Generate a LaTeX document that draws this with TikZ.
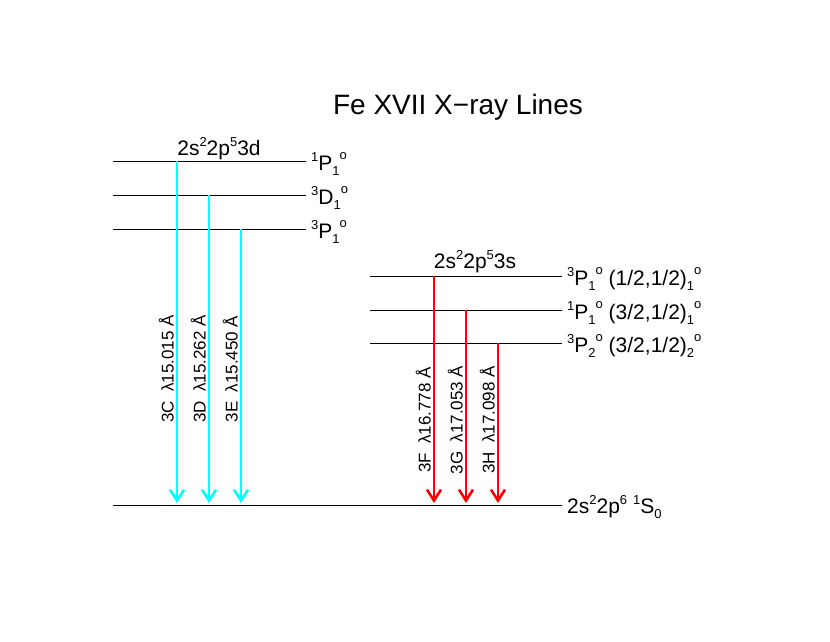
\documentclass[tikz,border=0pt]{standalone}
\usepackage{fontspec}
\setmainfont{Liberation Sans}
\usetikzlibrary{arrows.meta}
\definecolor{cyanx}{RGB}{0,255,255}
\definecolor{redx}{RGB}{255,0,0}
\newcommand\spx[1]{\raisebox{0.40em}{\fontsize{13}{13}\selectfont #1}}
\newcommand\sbx[1]{\raisebox{-0.26em}{\fontsize{13}{13}\selectfont #1}}
\newcommand\spo{\raisebox{0.52em}{\fontsize{13}{13}\selectfont o}}
\begin{document}
\begin{tikzpicture}[x=1pt,y=-1pt,
  level/.style={line width=1pt,black},
  trans/.style={line width=2.6pt,-{Straight Barb[length=11pt,width=14pt]}},
  cyantr/.style={trans,draw=cyanx},
  redtr/.style={trans,draw=redx},
  lvllabel/.style={anchor=base west,inner sep=0pt,font=\fontsize{21}{23}\selectfont},
  cfglabel/.style={anchor=base,inner sep=0pt,font=\fontsize{21}{23}\selectfont},
  wavelabel/.style={anchor=base,rotate=90,inner sep=0pt,font=\fontsize{17}{19}\selectfont}]
\useasboundingbox (0,0) rectangle (830,642);
\node[anchor=base,inner sep=0pt,font=\fontsize{28}{30}\selectfont] (title) at (458,114) {Fe XVII X\textminus ray Lines};
% levels
\coordinate (L1a) at (113,161); \coordinate (L1b) at (306,161);
\coordinate (L2a) at (113,195); \coordinate (L2b) at (306,195);
\coordinate (L3a) at (113,229); \coordinate (L3b) at (306,229);
\coordinate (R1a) at (370,276); \coordinate (R1b) at (562,276);
\coordinate (R2a) at (370,310); \coordinate (R2b) at (562,310);
\coordinate (R3a) at (370,343); \coordinate (R3b) at (562,343);
\coordinate (Ga) at (113,505); \coordinate (Gb) at (562,505);
\draw[level] (L1a) -- (L1b);
\draw[level] (L2a) -- (L2b);
\draw[level] (L3a) -- (L3b);
\draw[level] (R1a) -- (R1b);
\draw[level] (R2a) -- (R2b);
\draw[level] (R3a) -- (R3b);
\draw[level] (Ga) -- (Gb);
% labels
\node[cfglabel] (cfg3d) at (219,155) {2s\spx{2}2p\spx{5}3d};
\node[cfglabel] (cfg3s) at (475,268) {2s\spx{2}2p\spx{5}3s};
\node[lvllabel] (l1) at (311,170) {\spx{1}P\sbx{1}\spo};
\node[lvllabel] (l2) at (311,204) {\spx{3}D\sbx{1}\spo};
\node[lvllabel] (l3) at (311,238) {\spx{3}P\sbx{1}\spo};
\node[lvllabel] (r1) at (567,285) {\spx{3}P\sbx{1}\spo{} (1/2,1/2)\sbx{1}\spo};
\node[lvllabel] (r2) at (567,319) {\spx{1}P\sbx{1}\spo{} (3/2,1/2)\sbx{1}\spo};
\node[lvllabel] (r3) at (567,352) {\spx{3}P\sbx{2}\spo{} (3/2,1/2)\sbx{2}\spo};
\node[lvllabel] (g) at (567,513) {2s\spx{2}2p\spx{6} \spx{1}S\sbx{0}};
% transitions
\coordinate (c1) at (177,161); \coordinate (c1g) at (177,503);
\coordinate (c2) at (209,195); \coordinate (c2g) at (209,503);
\coordinate (c3) at (241,229); \coordinate (c3g) at (241,503);
\coordinate (d1) at (434,276); \coordinate (d1g) at (434,503);
\coordinate (d2) at (466,310); \coordinate (d2g) at (466,503);
\coordinate (d3) at (498,343); \coordinate (d3g) at (498,503);
\draw[cyantr] (c1) -- (c1g);
\draw[cyantr] (c2) -- (c2g);
\draw[cyantr] (c3) -- (c3g);
\draw[redtr] (d1) -- (d1g);
\draw[redtr] (d2) -- (d2g);
\draw[redtr] (d3) -- (d3g);
\node[wavelabel] (w3c) at (173.5,369) {3C\hspace{0.55em}λ15.015 Å};
\node[wavelabel] (w3d) at (205.5,369) {3D\hspace{0.55em}λ15.262 Å};
\node[wavelabel] (w3e) at (237.5,369) {3E\hspace{0.55em}λ15.450 Å};
\node[wavelabel] (w3f) at (430.5,420) {3F\hspace{0.55em}λ16.778 Å};
\node[wavelabel] (w3g) at (462.5,420) {3G\hspace{0.55em}λ17.053 Å};
\node[wavelabel] (w3h) at (494.5,420) {3H\hspace{0.55em}λ17.098 Å};
\end{tikzpicture}
\end{document}
